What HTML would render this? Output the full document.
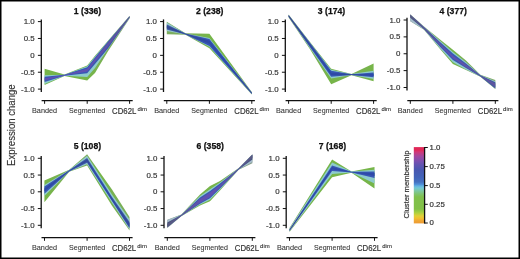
<!DOCTYPE html><html><head><meta charset="utf-8"><style>html,body{margin:0;padding:0;background:#fff;}svg{display:block;will-change:transform;}</style></head><body>
<svg xmlns="http://www.w3.org/2000/svg" width="520" height="259" viewBox="0 0 520 259" font-family='&quot;Liberation Sans&quot;, sans-serif'>
<rect x="0" y="0" width="520" height="259" fill="#fff"/>
<defs><linearGradient id="cb" x1="0" y1="0" x2="0" y2="1"><stop offset="0" stop-color="#e02858"/><stop offset="0.038" stop-color="#e02858"/><stop offset="0.064" stop-color="#d03878"/><stop offset="0.123" stop-color="#a048a0"/><stop offset="0.189" stop-color="#7850b0"/><stop offset="0.235" stop-color="#6054b0"/><stop offset="0.3" stop-color="#4858b0"/><stop offset="0.392" stop-color="#4262b8"/><stop offset="0.457" stop-color="#4470c0"/><stop offset="0.49" stop-color="#5090d8"/><stop offset="0.51" stop-color="#62b2e2"/><stop offset="0.536" stop-color="#74c8d4"/><stop offset="0.569" stop-color="#7cc8a8"/><stop offset="0.615" stop-color="#80c470"/><stop offset="0.654" stop-color="#80c04c"/><stop offset="0.811" stop-color="#82c048"/><stop offset="0.857" stop-color="#a8d040"/><stop offset="0.902" stop-color="#e0d038"/><stop offset="0.934" stop-color="#f0c030"/><stop offset="0.967" stop-color="#f0a434"/><stop offset="1" stop-color="#ec9c34"/></linearGradient><filter id="bb" x="-5%" y="-5%" width="110%" height="110%"><feGaussianBlur stdDeviation="0.45"/></filter><linearGradient id="g1" gradientUnits="userSpaceOnUse" x1="44.6" y1="0" x2="129.6" y2="0"><stop offset="0.5" stop-color="#76b548"/><stop offset="0.75" stop-color="#7ab056"/><stop offset="1" stop-color="#83a27d"/></linearGradient><linearGradient id="g2" gradientUnits="userSpaceOnUse" x1="44.6" y1="0" x2="129.6" y2="0"><stop offset="0.5" stop-color="#8ccbcc"/><stop offset="0.75" stop-color="#91c8cc"/><stop offset="1" stop-color="#a0bfcb"/></linearGradient><linearGradient id="g3" gradientUnits="userSpaceOnUse" x1="44.6" y1="0" x2="129.6" y2="0"><stop offset="0.5" stop-color="#3757b6"/><stop offset="0.75" stop-color="#3b57ab"/><stop offset="1" stop-color="#45568c"/></linearGradient><linearGradient id="g4" gradientUnits="userSpaceOnUse" x1="44.6" y1="0" x2="129.6" y2="0"><stop offset="0.5" stop-color="#6050b2"/><stop offset="0.75" stop-color="#5f52a8"/><stop offset="1" stop-color="#5b578f"/></linearGradient><linearGradient id="g5" gradientUnits="userSpaceOnUse" x1="166.8" y1="0" x2="251.8" y2="0"><stop offset="0" stop-color="#7cad60"/><stop offset="0.22" stop-color="#7bae5b"/><stop offset="0.5" stop-color="#76b548"/><stop offset="0.74" stop-color="#76b548"/><stop offset="1" stop-color="#7dab65"/></linearGradient><linearGradient id="g6" gradientUnits="userSpaceOnUse" x1="166.8" y1="0" x2="251.8" y2="0"><stop offset="0" stop-color="#95c6cc"/><stop offset="0.22" stop-color="#93c7cc"/><stop offset="0.5" stop-color="#8ccbcc"/><stop offset="0.74" stop-color="#8ccbcc"/><stop offset="1" stop-color="#97c4cb"/></linearGradient><linearGradient id="g7" gradientUnits="userSpaceOnUse" x1="166.8" y1="0" x2="251.8" y2="0"><stop offset="0" stop-color="#3d56a3"/><stop offset="0.22" stop-color="#3c57a7"/><stop offset="0.5" stop-color="#3757b6"/><stop offset="0.74" stop-color="#3757b6"/><stop offset="1" stop-color="#3e569f"/></linearGradient><linearGradient id="g8" gradientUnits="userSpaceOnUse" x1="166.8" y1="0" x2="251.8" y2="0"><stop offset="0" stop-color="#334a95"/><stop offset="0.22" stop-color="#324a99"/><stop offset="0.5" stop-color="#2d4aa8"/><stop offset="0.74" stop-color="#2d4aa8"/><stop offset="1" stop-color="#344a92"/></linearGradient><linearGradient id="g9" gradientUnits="userSpaceOnUse" x1="288.6" y1="0" x2="373.6" y2="0"><stop offset="0" stop-color="#81a673"/><stop offset="0.25" stop-color="#7ab056"/><stop offset="0.5" stop-color="#76b548"/><stop offset="0.74" stop-color="#7ab056"/><stop offset="1" stop-color="#76b548"/></linearGradient><linearGradient id="g10" gradientUnits="userSpaceOnUse" x1="288.6" y1="0" x2="373.6" y2="0"><stop offset="0" stop-color="#9cc1cb"/><stop offset="0.25" stop-color="#91c8cc"/><stop offset="0.5" stop-color="#8ccbcc"/><stop offset="0.74" stop-color="#91c8cc"/><stop offset="1" stop-color="#8ccbcc"/></linearGradient><linearGradient id="g11" gradientUnits="userSpaceOnUse" x1="288.6" y1="0" x2="373.6" y2="0"><stop offset="0" stop-color="#425694"/><stop offset="0.25" stop-color="#3b57ab"/><stop offset="0.5" stop-color="#3757b6"/><stop offset="0.74" stop-color="#3b57ab"/><stop offset="1" stop-color="#3757b6"/></linearGradient><linearGradient id="g12" gradientUnits="userSpaceOnUse" x1="288.6" y1="0" x2="373.6" y2="0"><stop offset="0" stop-color="#374987"/><stop offset="0.25" stop-color="#304a9d"/><stop offset="0.5" stop-color="#2d4aa8"/><stop offset="0.74" stop-color="#304a9d"/><stop offset="1" stop-color="#2d4aa8"/></linearGradient><linearGradient id="g13" gradientUnits="userSpaceOnUse" x1="410.2" y1="0" x2="495.3" y2="0"><stop offset="0" stop-color="#889c90"/><stop offset="0.16" stop-color="#81a673"/><stop offset="0.35" stop-color="#7ab056"/><stop offset="0.5" stop-color="#76b548"/><stop offset="0.66" stop-color="#7ab056"/><stop offset="0.82" stop-color="#7dab65"/><stop offset="1" stop-color="#7dab65"/></linearGradient><linearGradient id="g14" gradientUnits="userSpaceOnUse" x1="410.2" y1="0" x2="495.3" y2="0"><stop offset="0" stop-color="#a7bbcb"/><stop offset="0.16" stop-color="#9cc1cb"/><stop offset="0.35" stop-color="#91c8cc"/><stop offset="0.5" stop-color="#8ccbcc"/><stop offset="0.66" stop-color="#91c8cc"/><stop offset="0.82" stop-color="#97c4cb"/><stop offset="1" stop-color="#97c4cb"/></linearGradient><linearGradient id="g15" gradientUnits="userSpaceOnUse" x1="410.2" y1="0" x2="495.3" y2="0"><stop offset="0" stop-color="#4a557d"/><stop offset="0.16" stop-color="#425694"/><stop offset="0.35" stop-color="#3b57ab"/><stop offset="0.5" stop-color="#3757b6"/><stop offset="0.66" stop-color="#3b57ab"/><stop offset="0.82" stop-color="#3e569f"/><stop offset="1" stop-color="#3e569f"/></linearGradient><linearGradient id="g16" gradientUnits="userSpaceOnUse" x1="410.2" y1="0" x2="495.3" y2="0"><stop offset="0" stop-color="#5a5982"/><stop offset="0.16" stop-color="#5c5695"/><stop offset="0.35" stop-color="#5f52a8"/><stop offset="0.5" stop-color="#6050b2"/><stop offset="0.66" stop-color="#5f52a8"/><stop offset="0.82" stop-color="#5d549f"/><stop offset="1" stop-color="#5d549f"/></linearGradient><linearGradient id="g17" gradientUnits="userSpaceOnUse" x1="44.4" y1="0" x2="129.5" y2="0"><stop offset="0" stop-color="#76b548"/><stop offset="0.29" stop-color="#7ab056"/><stop offset="0.5" stop-color="#7bae5b"/><stop offset="0.65" stop-color="#76b548"/><stop offset="1" stop-color="#7bae5b"/></linearGradient><linearGradient id="g18" gradientUnits="userSpaceOnUse" x1="44.4" y1="0" x2="129.5" y2="0"><stop offset="0" stop-color="#8ccbcc"/><stop offset="0.29" stop-color="#91c8cc"/><stop offset="0.5" stop-color="#93c7cc"/><stop offset="0.65" stop-color="#8ccbcc"/><stop offset="1" stop-color="#93c7cc"/></linearGradient><linearGradient id="g19" gradientUnits="userSpaceOnUse" x1="44.4" y1="0" x2="129.5" y2="0"><stop offset="0" stop-color="#3757b6"/><stop offset="0.29" stop-color="#3b57ab"/><stop offset="0.5" stop-color="#3c57a7"/><stop offset="0.65" stop-color="#3757b6"/><stop offset="1" stop-color="#3c57a7"/></linearGradient><linearGradient id="g20" gradientUnits="userSpaceOnUse" x1="44.4" y1="0" x2="129.5" y2="0"><stop offset="0" stop-color="#2d4aa8"/><stop offset="0.29" stop-color="#304a9d"/><stop offset="0.5" stop-color="#324a99"/><stop offset="0.65" stop-color="#2d4aa8"/><stop offset="1" stop-color="#324a99"/></linearGradient><linearGradient id="g21" gradientUnits="userSpaceOnUse" x1="167.3" y1="0" x2="252.4" y2="0"><stop offset="0" stop-color="#899a95"/><stop offset="0.16" stop-color="#81a673"/><stop offset="0.38" stop-color="#77b34d"/><stop offset="0.5" stop-color="#76b548"/><stop offset="0.62" stop-color="#77b34d"/><stop offset="0.84" stop-color="#81a673"/><stop offset="1" stop-color="#889c90"/></linearGradient><linearGradient id="g22" gradientUnits="userSpaceOnUse" x1="167.3" y1="0" x2="252.4" y2="0"><stop offset="0" stop-color="#a9bacb"/><stop offset="0.16" stop-color="#9cc1cb"/><stop offset="0.38" stop-color="#8ecacc"/><stop offset="0.5" stop-color="#8ccbcc"/><stop offset="0.62" stop-color="#8ecacc"/><stop offset="0.84" stop-color="#9cc1cb"/><stop offset="1" stop-color="#a7bbcb"/></linearGradient><linearGradient id="g23" gradientUnits="userSpaceOnUse" x1="167.3" y1="0" x2="252.4" y2="0"><stop offset="0" stop-color="#4b5579"/><stop offset="0.16" stop-color="#425694"/><stop offset="0.38" stop-color="#3857b2"/><stop offset="0.5" stop-color="#3757b6"/><stop offset="0.62" stop-color="#3857b2"/><stop offset="0.84" stop-color="#425694"/><stop offset="1" stop-color="#4a557d"/></linearGradient><linearGradient id="g24" gradientUnits="userSpaceOnUse" x1="167.3" y1="0" x2="252.4" y2="0"><stop offset="0" stop-color="#595a7e"/><stop offset="0.16" stop-color="#5c5695"/><stop offset="0.38" stop-color="#6051af"/><stop offset="0.5" stop-color="#6050b2"/><stop offset="0.62" stop-color="#6051af"/><stop offset="0.84" stop-color="#5c5695"/><stop offset="1" stop-color="#5a5982"/></linearGradient><linearGradient id="g25" gradientUnits="userSpaceOnUse" x1="289.5" y1="0" x2="374.5" y2="0"><stop offset="0" stop-color="#7ea96a"/><stop offset="0.24" stop-color="#76b548"/><stop offset="1" stop-color="#76b548"/></linearGradient><linearGradient id="g26" gradientUnits="userSpaceOnUse" x1="289.5" y1="0" x2="374.5" y2="0"><stop offset="0" stop-color="#99c3cb"/><stop offset="0.24" stop-color="#8ccbcc"/><stop offset="1" stop-color="#8ccbcc"/></linearGradient><linearGradient id="g27" gradientUnits="userSpaceOnUse" x1="289.5" y1="0" x2="374.5" y2="0"><stop offset="0" stop-color="#40569b"/><stop offset="0.24" stop-color="#3757b6"/><stop offset="1" stop-color="#3757b6"/></linearGradient><linearGradient id="g28" gradientUnits="userSpaceOnUse" x1="289.5" y1="0" x2="374.5" y2="0"><stop offset="0" stop-color="#354a8e"/><stop offset="0.24" stop-color="#2d4aa8"/><stop offset="1" stop-color="#2d4aa8"/></linearGradient></defs>
<g filter="url(#bb)"><polygon points="44.6,68.8 64.5,74.6 87.2,65.6 95,55.8 108,40.8 129.6,15.8 129.6,18.6 108,51.2 95,73 87.2,80.4 64.5,75.9 44.6,85" fill="url(#g1)"/><polygon points="44.6,75.3 64.5,74.7 87.2,66.3 95,56.4 108,41.3 129.6,16 129.6,18 108,48.8 95,68 87.2,77 64.5,75.8 44.6,84" fill="url(#g2)"/><polygon points="44.6,76.8 64.5,74.8 87.2,67.3 95,57.4 108,41.6 129.6,16.2 129.6,17.6 108,48.5 95,64 87.2,73.2 64.5,75.7 44.6,82" fill="url(#g3)"/><polygon points="44.6,78.2 64.5,74.9 87.2,68.8 95,58.8 108,42.8 129.6,16.5 129.6,17.2 108,46.6 95,61.8 87.2,71.6 64.5,75.6 44.6,80.6" fill="url(#g4)"/></g>
<line x1="41.3" y1="19.4" x2="41.3" y2="92" stroke="#111" stroke-width="1.3"/>
<line x1="37.9" y1="21.6" x2="41.3" y2="21.6" stroke="#111" stroke-width="1"/>
<text x="34.7" y="24.2" font-size="8.0" text-anchor="end" textLength="10.98" lengthAdjust="spacingAndGlyphs" fill="#333" stroke="#333" stroke-width="0.18">1.0</text>
<line x1="37.9" y1="38.48" x2="41.3" y2="38.48" stroke="#111" stroke-width="1"/>
<text x="34.7" y="41.08" font-size="8.0" text-anchor="end" textLength="10.98" lengthAdjust="spacingAndGlyphs" fill="#333" stroke="#333" stroke-width="0.18">0.5</text>
<line x1="37.9" y1="55.35" x2="41.3" y2="55.35" stroke="#111" stroke-width="1"/>
<text x="34.7" y="57.95" font-size="8.0" text-anchor="end" textLength="4.39" lengthAdjust="spacingAndGlyphs" fill="#333" stroke="#333" stroke-width="0.18">0</text>
<line x1="37.9" y1="72.22" x2="41.3" y2="72.22" stroke="#111" stroke-width="1"/>
<text x="34.7" y="74.82" font-size="8.0" text-anchor="end" textLength="13.61" lengthAdjust="spacingAndGlyphs" fill="#333" stroke="#333" stroke-width="0.18">-0.5</text>
<line x1="37.9" y1="89.1" x2="41.3" y2="89.1" stroke="#111" stroke-width="1"/>
<text x="34.7" y="91.7" font-size="8.0" text-anchor="end" textLength="13.61" lengthAdjust="spacingAndGlyphs" fill="#333" stroke="#333" stroke-width="0.18">-1.0</text>
<line x1="41.6" y1="100.6" x2="132.7" y2="100.6" stroke="#111" stroke-width="1.3"/>
<line x1="44.6" y1="100.6" x2="44.6" y2="103.8" stroke="#111" stroke-width="1"/>
<line x1="87.2" y1="100.6" x2="87.2" y2="103.8" stroke="#111" stroke-width="1"/>
<line x1="129.6" y1="100.6" x2="129.6" y2="103.8" stroke="#111" stroke-width="1"/>
<text x="44.6" y="112.6" font-size="7.7" text-anchor="middle" textLength="25.2" lengthAdjust="spacingAndGlyphs" fill="#333" stroke="#333" stroke-width="0.08">Banded</text>
<text x="87.2" y="112.6" font-size="7.7" text-anchor="middle" textLength="36.2" lengthAdjust="spacingAndGlyphs" fill="#333" stroke="#333" stroke-width="0.08">Segmented</text>
<text x="112.1" y="113.9" font-size="8.6" textLength="24.2" lengthAdjust="spacingAndGlyphs" fill="#333" stroke="#333" stroke-width="0.18">CD62L</text>
<text x="137.4" y="110.9" font-size="6.0" textLength="9.6" lengthAdjust="spacingAndGlyphs" fill="#333" stroke="#333" stroke-width="0.12">dim</text>
<text x="87.5" y="14.1" font-size="8.3" font-weight="bold" text-anchor="middle" textLength="27.3" lengthAdjust="spacingAndGlyphs" fill="#111" stroke="#111" stroke-width="0.25">1 (336)</text>
<g filter="url(#bb)"><polygon points="166.8,21.8 185.5,33.3 209.4,33.8 251.8,92 251.8,94.4 209.4,48.3 185.5,34.7 166.8,34.3" fill="url(#g5)"/><polygon points="166.8,22.6 185.5,33.4 209.4,38 251.8,92.2 251.8,94.2 209.4,46.8 185.5,34.6 166.8,31" fill="url(#g6)"/><polygon points="166.8,24.6 185.5,33.5 209.4,39 251.8,92.4 251.8,94 209.4,46 185.5,34.5 166.8,29.4" fill="url(#g7)"/><polygon points="166.8,25.8 185.5,33.7 209.4,40.5 251.8,92.7 251.8,93.7 209.4,44 185.5,34.3 166.8,28.2" fill="url(#g8)"/></g>
<line x1="163.5" y1="19.4" x2="163.5" y2="92" stroke="#111" stroke-width="1.3"/>
<line x1="160.1" y1="21.6" x2="163.5" y2="21.6" stroke="#111" stroke-width="1"/>
<text x="156.9" y="24.2" font-size="8.0" text-anchor="end" textLength="10.98" lengthAdjust="spacingAndGlyphs" fill="#333" stroke="#333" stroke-width="0.18">1.0</text>
<line x1="160.1" y1="38.48" x2="163.5" y2="38.48" stroke="#111" stroke-width="1"/>
<text x="156.9" y="41.08" font-size="8.0" text-anchor="end" textLength="10.98" lengthAdjust="spacingAndGlyphs" fill="#333" stroke="#333" stroke-width="0.18">0.5</text>
<line x1="160.1" y1="55.35" x2="163.5" y2="55.35" stroke="#111" stroke-width="1"/>
<text x="156.9" y="57.95" font-size="8.0" text-anchor="end" textLength="4.39" lengthAdjust="spacingAndGlyphs" fill="#333" stroke="#333" stroke-width="0.18">0</text>
<line x1="160.1" y1="72.22" x2="163.5" y2="72.22" stroke="#111" stroke-width="1"/>
<text x="156.9" y="74.82" font-size="8.0" text-anchor="end" textLength="13.61" lengthAdjust="spacingAndGlyphs" fill="#333" stroke="#333" stroke-width="0.18">-0.5</text>
<line x1="160.1" y1="89.1" x2="163.5" y2="89.1" stroke="#111" stroke-width="1"/>
<text x="156.9" y="91.7" font-size="8.0" text-anchor="end" textLength="13.61" lengthAdjust="spacingAndGlyphs" fill="#333" stroke="#333" stroke-width="0.18">-1.0</text>
<line x1="163.8" y1="100.6" x2="254.9" y2="100.6" stroke="#111" stroke-width="1.3"/>
<line x1="166.8" y1="100.6" x2="166.8" y2="103.8" stroke="#111" stroke-width="1"/>
<line x1="209.4" y1="100.6" x2="209.4" y2="103.8" stroke="#111" stroke-width="1"/>
<line x1="251.8" y1="100.6" x2="251.8" y2="103.8" stroke="#111" stroke-width="1"/>
<text x="166.8" y="112.6" font-size="7.7" text-anchor="middle" textLength="25.2" lengthAdjust="spacingAndGlyphs" fill="#333" stroke="#333" stroke-width="0.08">Banded</text>
<text x="209.4" y="112.6" font-size="7.7" text-anchor="middle" textLength="36.2" lengthAdjust="spacingAndGlyphs" fill="#333" stroke="#333" stroke-width="0.08">Segmented</text>
<text x="234.3" y="113.9" font-size="8.6" textLength="24.2" lengthAdjust="spacingAndGlyphs" fill="#333" stroke="#333" stroke-width="0.18">CD62L</text>
<text x="259.6" y="110.9" font-size="6.0" textLength="9.6" lengthAdjust="spacingAndGlyphs" fill="#333" stroke="#333" stroke-width="0.12">dim</text>
<text x="209.7" y="14.1" font-size="8.3" font-weight="bold" text-anchor="middle" textLength="27.3" lengthAdjust="spacingAndGlyphs" fill="#111" stroke="#111" stroke-width="0.25">2 (238)</text>
<g filter="url(#bb)"><polygon points="288.6,14.6 310,42 331.2,68.7 351.5,74 373.6,63.6 373.6,81.2 351.5,75.2 331.2,84.3 310,49.2 288.6,17.4" fill="url(#g9)"/><polygon points="288.6,14.8 310,42.4 331.2,69.8 351.5,74.1 373.6,70.7 373.6,78.9 351.5,75.1 331.2,78.5 310,48.2 288.6,17.1" fill="url(#g10)"/><polygon points="288.6,15 310,42.8 331.2,70.8 351.5,74.2 373.6,72.5 373.6,77.3 351.5,75 331.2,76.8 310,47.2 288.6,16.8" fill="url(#g11)"/><polygon points="288.6,15.3 310,43.8 331.2,72.5 351.5,74.3 373.6,73.8 373.6,76 351.5,74.9 331.2,75.3 310,46.2 288.6,16.4" fill="url(#g12)"/></g>
<line x1="285.3" y1="19.4" x2="285.3" y2="92" stroke="#111" stroke-width="1.3"/>
<line x1="281.9" y1="21.6" x2="285.3" y2="21.6" stroke="#111" stroke-width="1"/>
<text x="278.7" y="24.2" font-size="8.0" text-anchor="end" textLength="10.98" lengthAdjust="spacingAndGlyphs" fill="#333" stroke="#333" stroke-width="0.18">1.0</text>
<line x1="281.9" y1="38.48" x2="285.3" y2="38.48" stroke="#111" stroke-width="1"/>
<text x="278.7" y="41.08" font-size="8.0" text-anchor="end" textLength="10.98" lengthAdjust="spacingAndGlyphs" fill="#333" stroke="#333" stroke-width="0.18">0.5</text>
<line x1="281.9" y1="55.35" x2="285.3" y2="55.35" stroke="#111" stroke-width="1"/>
<text x="278.7" y="57.95" font-size="8.0" text-anchor="end" textLength="4.39" lengthAdjust="spacingAndGlyphs" fill="#333" stroke="#333" stroke-width="0.18">0</text>
<line x1="281.9" y1="72.22" x2="285.3" y2="72.22" stroke="#111" stroke-width="1"/>
<text x="278.7" y="74.82" font-size="8.0" text-anchor="end" textLength="13.61" lengthAdjust="spacingAndGlyphs" fill="#333" stroke="#333" stroke-width="0.18">-0.5</text>
<line x1="281.9" y1="89.1" x2="285.3" y2="89.1" stroke="#111" stroke-width="1"/>
<text x="278.7" y="91.7" font-size="8.0" text-anchor="end" textLength="13.61" lengthAdjust="spacingAndGlyphs" fill="#333" stroke="#333" stroke-width="0.18">-1.0</text>
<line x1="285.6" y1="100.6" x2="376.7" y2="100.6" stroke="#111" stroke-width="1.3"/>
<line x1="288.6" y1="100.6" x2="288.6" y2="103.8" stroke="#111" stroke-width="1"/>
<line x1="331.2" y1="100.6" x2="331.2" y2="103.8" stroke="#111" stroke-width="1"/>
<line x1="373.6" y1="100.6" x2="373.6" y2="103.8" stroke="#111" stroke-width="1"/>
<text x="288.6" y="112.6" font-size="7.7" text-anchor="middle" textLength="25.2" lengthAdjust="spacingAndGlyphs" fill="#333" stroke="#333" stroke-width="0.08">Banded</text>
<text x="331.2" y="112.6" font-size="7.7" text-anchor="middle" textLength="36.2" lengthAdjust="spacingAndGlyphs" fill="#333" stroke="#333" stroke-width="0.08">Segmented</text>
<text x="356.1" y="113.9" font-size="8.6" textLength="24.2" lengthAdjust="spacingAndGlyphs" fill="#333" stroke="#333" stroke-width="0.18">CD62L</text>
<text x="381.4" y="110.9" font-size="6.0" textLength="9.6" lengthAdjust="spacingAndGlyphs" fill="#333" stroke="#333" stroke-width="0.12">dim</text>
<text x="331.5" y="14.1" font-size="8.3" font-weight="bold" text-anchor="middle" textLength="27.3" lengthAdjust="spacingAndGlyphs" fill="#111" stroke="#111" stroke-width="0.25">3 (174)</text>
<g filter="url(#bb)"><polygon points="410.2,14.2 424,26.4 440,39.5 452.9,49.8 466,60.5 480.4,74.8 495.3,80 495.3,89 480.4,76.8 466,70 452.9,64 440,49 424,29.8 410.2,21.3" fill="url(#g13)"/><polygon points="410.2,14.4 424,26.7 440,40.8 452.9,52 466,62.3 480.4,75 495.3,81.2 495.3,88.7 480.4,76.6 466,69.4 452.9,62.2 440,48.2 424,29.5 410.2,21" fill="url(#g14)"/><polygon points="410.2,14.6 424,27 440,42 452.9,53.6 466,63.4 480.4,75.2 495.3,82.2 495.3,88.4 480.4,76.4 466,68 452.9,60 440,46.8 424,29.2 410.2,17.8" fill="url(#g15)"/><polygon points="410.2,15 424,27.4 440,43.5 452.9,55.8 466,64.8 480.4,75.5 495.3,83.5 495.3,87.2 480.4,76.1 466,67 452.9,58.3 440,45.5 424,28.8 410.2,16.4" fill="url(#g16)"/></g>
<line x1="407" y1="17.8" x2="407" y2="90.4" stroke="#111" stroke-width="1.3"/>
<line x1="403.6" y1="20" x2="407" y2="20" stroke="#111" stroke-width="1"/>
<text x="400.4" y="22.6" font-size="8.0" text-anchor="end" textLength="10.98" lengthAdjust="spacingAndGlyphs" fill="#333" stroke="#333" stroke-width="0.18">1.0</text>
<line x1="403.6" y1="36.88" x2="407" y2="36.88" stroke="#111" stroke-width="1"/>
<text x="400.4" y="39.48" font-size="8.0" text-anchor="end" textLength="10.98" lengthAdjust="spacingAndGlyphs" fill="#333" stroke="#333" stroke-width="0.18">0.5</text>
<line x1="403.6" y1="53.75" x2="407" y2="53.75" stroke="#111" stroke-width="1"/>
<text x="400.4" y="56.35" font-size="8.0" text-anchor="end" textLength="4.39" lengthAdjust="spacingAndGlyphs" fill="#333" stroke="#333" stroke-width="0.18">0</text>
<line x1="403.6" y1="70.62" x2="407" y2="70.62" stroke="#111" stroke-width="1"/>
<text x="400.4" y="73.22" font-size="8.0" text-anchor="end" textLength="13.61" lengthAdjust="spacingAndGlyphs" fill="#333" stroke="#333" stroke-width="0.18">-0.5</text>
<line x1="403.6" y1="87.5" x2="407" y2="87.5" stroke="#111" stroke-width="1"/>
<text x="400.4" y="90.1" font-size="8.0" text-anchor="end" textLength="13.61" lengthAdjust="spacingAndGlyphs" fill="#333" stroke="#333" stroke-width="0.18">-1.0</text>
<line x1="407.3" y1="100.6" x2="498.4" y2="100.6" stroke="#111" stroke-width="1.3"/>
<line x1="410.3" y1="100.6" x2="410.3" y2="103.8" stroke="#111" stroke-width="1"/>
<line x1="452.9" y1="100.6" x2="452.9" y2="103.8" stroke="#111" stroke-width="1"/>
<line x1="495.3" y1="100.6" x2="495.3" y2="103.8" stroke="#111" stroke-width="1"/>
<text x="410.3" y="112.6" font-size="7.7" text-anchor="middle" textLength="25.2" lengthAdjust="spacingAndGlyphs" fill="#333" stroke="#333" stroke-width="0.08">Banded</text>
<text x="452.9" y="112.6" font-size="7.7" text-anchor="middle" textLength="36.2" lengthAdjust="spacingAndGlyphs" fill="#333" stroke="#333" stroke-width="0.08">Segmented</text>
<text x="477.8" y="113.9" font-size="8.6" textLength="24.2" lengthAdjust="spacingAndGlyphs" fill="#333" stroke="#333" stroke-width="0.18">CD62L</text>
<text x="503.1" y="110.9" font-size="6.0" textLength="9.6" lengthAdjust="spacingAndGlyphs" fill="#333" stroke="#333" stroke-width="0.12">dim</text>
<text x="453.2" y="14.1" font-size="8.3" font-weight="bold" text-anchor="middle" textLength="27.3" lengthAdjust="spacingAndGlyphs" fill="#111" stroke="#111" stroke-width="0.25">4 (377)</text>
<g filter="url(#bb)"><polygon points="44.4,180.5 69.2,169.8 87.1,154.2 112,189.6 129.5,217 129.5,230.5 112,205.7 87.1,165.5 69.2,171.8 44.4,202.2" fill="url(#g17)"/><polygon points="44.4,185 69.2,170 87.1,155.8 112,194.4 129.5,219.5 129.5,229.5 112,202.8 87.1,164.2 69.2,171.6 44.4,196" fill="url(#g18)"/><polygon points="44.4,186.4 69.2,170.2 87.1,158 112,197 129.5,222 129.5,228.2 112,201 87.1,162.8 69.2,171.4 44.4,193.7" fill="url(#g19)"/><polygon points="44.4,188.5 69.2,170.5 87.1,159.5 112,197.9 129.5,223.5 129.5,227 112,200.2 87.1,161.5 69.2,171.1 44.4,191.5" fill="url(#g20)"/></g>
<line x1="41.2" y1="156" x2="41.2" y2="228.3" stroke="#111" stroke-width="1.3"/>
<line x1="37.8" y1="158.3" x2="41.2" y2="158.3" stroke="#111" stroke-width="1"/>
<text x="34.6" y="160.9" font-size="8.0" text-anchor="end" textLength="10.98" lengthAdjust="spacingAndGlyphs" fill="#333" stroke="#333" stroke-width="0.18">1.0</text>
<line x1="37.8" y1="175.05" x2="41.2" y2="175.05" stroke="#111" stroke-width="1"/>
<text x="34.6" y="177.65" font-size="8.0" text-anchor="end" textLength="10.98" lengthAdjust="spacingAndGlyphs" fill="#333" stroke="#333" stroke-width="0.18">0.5</text>
<line x1="37.8" y1="191.8" x2="41.2" y2="191.8" stroke="#111" stroke-width="1"/>
<text x="34.6" y="194.4" font-size="8.0" text-anchor="end" textLength="4.39" lengthAdjust="spacingAndGlyphs" fill="#333" stroke="#333" stroke-width="0.18">0</text>
<line x1="37.8" y1="208.55" x2="41.2" y2="208.55" stroke="#111" stroke-width="1"/>
<text x="34.6" y="211.15" font-size="8.0" text-anchor="end" textLength="13.61" lengthAdjust="spacingAndGlyphs" fill="#333" stroke="#333" stroke-width="0.18">-0.5</text>
<line x1="37.8" y1="225.3" x2="41.2" y2="225.3" stroke="#111" stroke-width="1"/>
<text x="34.6" y="227.9" font-size="8.0" text-anchor="end" textLength="13.61" lengthAdjust="spacingAndGlyphs" fill="#333" stroke="#333" stroke-width="0.18">-1.0</text>
<line x1="41.5" y1="237.6" x2="132.6" y2="237.6" stroke="#111" stroke-width="1.3"/>
<line x1="44.5" y1="237.6" x2="44.5" y2="240.8" stroke="#111" stroke-width="1"/>
<line x1="87.1" y1="237.6" x2="87.1" y2="240.8" stroke="#111" stroke-width="1"/>
<line x1="129.5" y1="237.6" x2="129.5" y2="240.8" stroke="#111" stroke-width="1"/>
<text x="44.5" y="249.8" font-size="7.7" text-anchor="middle" textLength="25.2" lengthAdjust="spacingAndGlyphs" fill="#333" stroke="#333" stroke-width="0.08">Banded</text>
<text x="87.1" y="249.8" font-size="7.7" text-anchor="middle" textLength="36.2" lengthAdjust="spacingAndGlyphs" fill="#333" stroke="#333" stroke-width="0.08">Segmented</text>
<text x="112" y="251.1" font-size="8.6" textLength="24.2" lengthAdjust="spacingAndGlyphs" fill="#333" stroke="#333" stroke-width="0.18">CD62L</text>
<text x="137.3" y="248.1" font-size="6.0" textLength="9.6" lengthAdjust="spacingAndGlyphs" fill="#333" stroke="#333" stroke-width="0.12">dim</text>
<text x="87.4" y="149" font-size="8.3" font-weight="bold" text-anchor="middle" textLength="27.3" lengthAdjust="spacingAndGlyphs" fill="#111" stroke="#111" stroke-width="0.25">5 (108)</text>
<g filter="url(#bb)"><polygon points="167.3,219.8 181.3,214.5 200,194.4 210,186 220,181 238.7,168 252.4,154.3 252.4,163.3 238.7,169.8 220,190.5 210,201.3 200,205.5 181.3,216.3 167.3,228" fill="url(#g21)"/><polygon points="167.3,220.1 181.3,214.7 200,196 210,189.2 220,182.4 238.7,168.2 252.4,154.4 252.4,162 238.7,169.6 220,189.6 210,199.8 200,204.6 181.3,216.1 167.3,227.7" fill="url(#g22)"/><polygon points="167.3,222.5 181.3,214.9 200,197.4 210,191 220,183.6 238.7,168.4 252.4,154.6 252.4,159.5 238.7,169.4 220,188.6 210,198.3 200,203.8 181.3,215.9 167.3,227.4" fill="url(#g23)"/><polygon points="167.3,224 181.3,215.1 200,199 210,192.6 220,185 238.7,168.6 252.4,155 252.4,157.8 238.7,169.2 220,187.2 210,196.9 200,202.8 181.3,215.7 167.3,226.8" fill="url(#g24)"/></g>
<line x1="164" y1="156" x2="164" y2="228.3" stroke="#111" stroke-width="1.3"/>
<line x1="160.6" y1="158.3" x2="164" y2="158.3" stroke="#111" stroke-width="1"/>
<text x="157.4" y="160.9" font-size="8.0" text-anchor="end" textLength="10.98" lengthAdjust="spacingAndGlyphs" fill="#333" stroke="#333" stroke-width="0.18">1.0</text>
<line x1="160.6" y1="175.05" x2="164" y2="175.05" stroke="#111" stroke-width="1"/>
<text x="157.4" y="177.65" font-size="8.0" text-anchor="end" textLength="10.98" lengthAdjust="spacingAndGlyphs" fill="#333" stroke="#333" stroke-width="0.18">0.5</text>
<line x1="160.6" y1="191.8" x2="164" y2="191.8" stroke="#111" stroke-width="1"/>
<text x="157.4" y="194.4" font-size="8.0" text-anchor="end" textLength="4.39" lengthAdjust="spacingAndGlyphs" fill="#333" stroke="#333" stroke-width="0.18">0</text>
<line x1="160.6" y1="208.55" x2="164" y2="208.55" stroke="#111" stroke-width="1"/>
<text x="157.4" y="211.15" font-size="8.0" text-anchor="end" textLength="13.61" lengthAdjust="spacingAndGlyphs" fill="#333" stroke="#333" stroke-width="0.18">-0.5</text>
<line x1="160.6" y1="225.3" x2="164" y2="225.3" stroke="#111" stroke-width="1"/>
<text x="157.4" y="227.9" font-size="8.0" text-anchor="end" textLength="13.61" lengthAdjust="spacingAndGlyphs" fill="#333" stroke="#333" stroke-width="0.18">-1.0</text>
<line x1="164.3" y1="237.6" x2="255.4" y2="237.6" stroke="#111" stroke-width="1.3"/>
<line x1="167.3" y1="237.6" x2="167.3" y2="240.8" stroke="#111" stroke-width="1"/>
<line x1="209.9" y1="237.6" x2="209.9" y2="240.8" stroke="#111" stroke-width="1"/>
<line x1="252.3" y1="237.6" x2="252.3" y2="240.8" stroke="#111" stroke-width="1"/>
<text x="167.3" y="249.8" font-size="7.7" text-anchor="middle" textLength="25.2" lengthAdjust="spacingAndGlyphs" fill="#333" stroke="#333" stroke-width="0.08">Banded</text>
<text x="209.9" y="249.8" font-size="7.7" text-anchor="middle" textLength="36.2" lengthAdjust="spacingAndGlyphs" fill="#333" stroke="#333" stroke-width="0.08">Segmented</text>
<text x="234.8" y="251.1" font-size="8.6" textLength="24.2" lengthAdjust="spacingAndGlyphs" fill="#333" stroke="#333" stroke-width="0.18">CD62L</text>
<text x="260.1" y="248.1" font-size="6.0" textLength="9.6" lengthAdjust="spacingAndGlyphs" fill="#333" stroke="#333" stroke-width="0.12">dim</text>
<text x="210.2" y="149" font-size="8.3" font-weight="bold" text-anchor="middle" textLength="27.3" lengthAdjust="spacingAndGlyphs" fill="#111" stroke="#111" stroke-width="0.25">6 (358)</text>
<g filter="url(#bb)"><polygon points="289.5,228 332.1,159.4 351.5,171.4 374.5,167 374.5,188.5 351.5,172.8 332.1,177.2 289.5,232" fill="url(#g25)"/><polygon points="289.5,228.6 332.1,162.6 351.5,171.6 374.5,169.8 374.5,183.5 351.5,172.6 332.1,174 289.5,231.6" fill="url(#g26)"/><polygon points="289.5,229.4 332.1,165.6 351.5,171.8 374.5,171.5 374.5,178 351.5,172.4 332.1,170.9 289.5,231.1" fill="url(#g27)"/><polygon points="289.5,229.8 332.1,167 351.5,172 374.5,173 374.5,176 351.5,172.2 332.1,169.5 289.5,230.8" fill="url(#g28)"/></g>
<line x1="286.2" y1="156" x2="286.2" y2="228.3" stroke="#111" stroke-width="1.3"/>
<line x1="282.8" y1="158.3" x2="286.2" y2="158.3" stroke="#111" stroke-width="1"/>
<text x="279.6" y="160.9" font-size="8.0" text-anchor="end" textLength="10.98" lengthAdjust="spacingAndGlyphs" fill="#333" stroke="#333" stroke-width="0.18">1.0</text>
<line x1="282.8" y1="175.05" x2="286.2" y2="175.05" stroke="#111" stroke-width="1"/>
<text x="279.6" y="177.65" font-size="8.0" text-anchor="end" textLength="10.98" lengthAdjust="spacingAndGlyphs" fill="#333" stroke="#333" stroke-width="0.18">0.5</text>
<line x1="282.8" y1="191.8" x2="286.2" y2="191.8" stroke="#111" stroke-width="1"/>
<text x="279.6" y="194.4" font-size="8.0" text-anchor="end" textLength="4.39" lengthAdjust="spacingAndGlyphs" fill="#333" stroke="#333" stroke-width="0.18">0</text>
<line x1="282.8" y1="208.55" x2="286.2" y2="208.55" stroke="#111" stroke-width="1"/>
<text x="279.6" y="211.15" font-size="8.0" text-anchor="end" textLength="13.61" lengthAdjust="spacingAndGlyphs" fill="#333" stroke="#333" stroke-width="0.18">-0.5</text>
<line x1="282.8" y1="225.3" x2="286.2" y2="225.3" stroke="#111" stroke-width="1"/>
<text x="279.6" y="227.9" font-size="8.0" text-anchor="end" textLength="13.61" lengthAdjust="spacingAndGlyphs" fill="#333" stroke="#333" stroke-width="0.18">-1.0</text>
<line x1="286.5" y1="237.6" x2="377.6" y2="237.6" stroke="#111" stroke-width="1.3"/>
<line x1="289.5" y1="237.6" x2="289.5" y2="240.8" stroke="#111" stroke-width="1"/>
<line x1="332.1" y1="237.6" x2="332.1" y2="240.8" stroke="#111" stroke-width="1"/>
<line x1="374.5" y1="237.6" x2="374.5" y2="240.8" stroke="#111" stroke-width="1"/>
<text x="289.5" y="249.8" font-size="7.7" text-anchor="middle" textLength="25.2" lengthAdjust="spacingAndGlyphs" fill="#333" stroke="#333" stroke-width="0.08">Banded</text>
<text x="332.1" y="249.8" font-size="7.7" text-anchor="middle" textLength="36.2" lengthAdjust="spacingAndGlyphs" fill="#333" stroke="#333" stroke-width="0.08">Segmented</text>
<text x="357" y="251.1" font-size="8.6" textLength="24.2" lengthAdjust="spacingAndGlyphs" fill="#333" stroke="#333" stroke-width="0.18">CD62L</text>
<text x="382.3" y="248.1" font-size="6.0" textLength="9.6" lengthAdjust="spacingAndGlyphs" fill="#333" stroke="#333" stroke-width="0.12">dim</text>
<text x="332.4" y="149" font-size="8.3" font-weight="bold" text-anchor="middle" textLength="27.3" lengthAdjust="spacingAndGlyphs" fill="#111" stroke="#111" stroke-width="0.25">7 (168)</text>
<text transform="translate(15.2,125.1) rotate(-90)" font-size="10.2" text-anchor="middle" textLength="81.6" lengthAdjust="spacingAndGlyphs" fill="#333" stroke="#333" stroke-width="0.15">Expression change</text>
<rect x="413.8" y="147.1" width="10.6" height="76.3" fill="url(#cb)"/>
<line x1="424.6" y1="147.0" x2="424.6" y2="223.6" stroke="#111" stroke-width="1.3"/>
<line x1="424.6" y1="147.5" x2="427.8" y2="147.5" stroke="#111" stroke-width="1"/>
<text x="429.6" y="149.7" font-size="7.8" fill="#333" stroke="#333" stroke-width="0.2">1.0</text>
<line x1="424.6" y1="166.6" x2="427.8" y2="166.6" stroke="#111" stroke-width="1"/>
<text x="429.6" y="168.8" font-size="7.8" fill="#333" stroke="#333" stroke-width="0.2">0.75</text>
<line x1="424.6" y1="185.6" x2="427.8" y2="185.6" stroke="#111" stroke-width="1"/>
<text x="429.6" y="187.8" font-size="7.8" fill="#333" stroke="#333" stroke-width="0.2">0.5</text>
<line x1="424.6" y1="204.3" x2="427.8" y2="204.3" stroke="#111" stroke-width="1"/>
<text x="429.6" y="206.5" font-size="7.8" fill="#333" stroke="#333" stroke-width="0.2">0.25</text>
<line x1="424.6" y1="223" x2="427.8" y2="223" stroke="#111" stroke-width="1"/>
<text x="429.6" y="225.2" font-size="7.8" fill="#333" stroke="#333" stroke-width="0.2">0</text>
<text transform="translate(408.7,184.6) rotate(-90)" font-size="7.6" text-anchor="middle" textLength="68" lengthAdjust="spacingAndGlyphs" fill="#333" stroke="#333" stroke-width="0.2">Cluster membership</text>
<rect x="0.75" y="0.75" width="518.5" height="257.5" fill="none" stroke="#000" stroke-width="1.5"/>
</svg></body></html>
